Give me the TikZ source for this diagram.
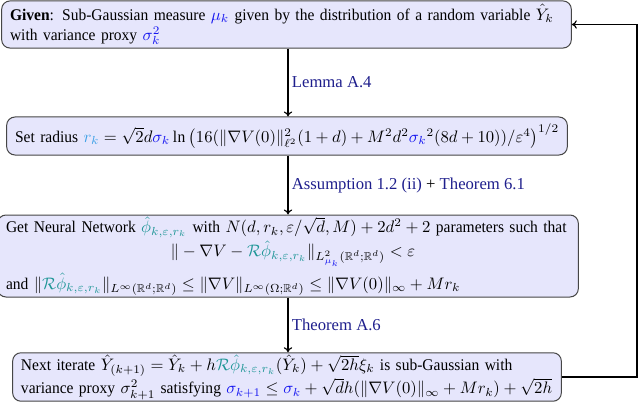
\documentclass[tikz,border=0pt]{standalone}
\usepackage{amsmath,amssymb}
\usepackage{fontspec}
\setmainfont{Liberation Serif}[FakeStretch=0.95]
\newfontfamily\labfont{Liberation Serif}
\usetikzlibrary{arrows.meta}
\definecolor{boxfill}{RGB}{230,230,252}
\definecolor{boxdraw}{RGB}{70,70,70}
\definecolor{rcol}{RGB}{60,160,230}
\definecolor{phicol}{RGB}{30,150,150}
\definecolor{labcol}{RGB}{30,30,140}
\definecolor{mublue}{RGB}{20,20,240}
\newcommand{\phik}{{\color{phicol}\hat\phi_{k,\varepsilon,r_k}}}
\newcommand{\Rphik}{{\color{phicol}\mathcal{R}\hat\phi_{k,\varepsilon,r_k}}}
\begin{document}
\begin{tikzpicture}[x=0.6pt,y=-0.6pt,
  stepbox/.style={draw=boxdraw,fill=boxfill,rounded corners=5pt,line width=0.6pt,
    inner xsep=5pt,inner ysep=2pt,align=left,font=\fontsize{9.8}{12}\selectfont},
  flow/.style={-{To[length=3pt,width=5pt]},line width=0.7pt},
  lab/.style={right,text=labcol,font=\labfont\fontsize{10}{12}\selectfont,inner sep=2pt}]
\useasboundingbox (0,0) rectangle (640,402);
\node[stepbox,minimum width=563*0.6pt,minimum height=45*0.6pt,text width=553*0.6pt] (b1) at (286.5,24.5)
 {\textbf{Given}: Sub-Gaussian measure ${\color{mublue}\mu_k}$ given by the distribution of a random variable $\hat{Y}_k$\\
  with variance proxy ${\color{mublue}\sigma_k^2}$};
\node[stepbox,minimum width=554*0.6pt,minimum height=38*0.6pt,text width=544*0.6pt] (b2) at (287,136)
 {Set radius ${\color{rcol}r_k} = \sqrt{2}d{\color{mublue}\sigma_k}\ln\big(16(\|\nabla V(0)\|_{\ell^2}^2(1+d)+M^2d^2{\color{mublue}\sigma_k}^2(8d+10))/\varepsilon^4\big)^{1/2}$};
\node[stepbox,minimum width=574*0.6pt,minimum height=82*0.6pt,text width=564*0.6pt,inner ysep=1pt] (b3) at (288,256)
 {Get Neural Network $\phik$ with $N(d,r_k,\varepsilon/\sqrt{d},M)+2d^2+2$ parameters such that\\[1pt]
  \makebox[\linewidth][c]{\hspace*{6pt}$\|-\nabla V-\Rphik\|_{L^2_{\color{mublue}\mu_k}(\mathbb{R}^d;\mathbb{R}^d)}<\varepsilon$}\\[3pt]
  and $\|\Rphik\|_{L^\infty(\mathbb{R}^d;\mathbb{R}^d)}\le\|\nabla V\|_{L^\infty(\Omega;\mathbb{R}^d)}\le\|\nabla V(0)\|_\infty+Mr_k$};
\node[stepbox,minimum width=542*0.6pt,minimum height=41*0.6pt,text width=532*0.6pt,inner ysep=1pt] (b4) at (287,377)
 {Next iterate $\hat Y_{(k+1)}=\hat Y_k+h\Rphik(\hat Y_k)+\sqrt{2h}\xi_k$ is sub-Gaussian with\\
  variance proxy $\sigma_{k+1}^2$ satisfying ${\color{mublue}\sigma_{k+1}}\le{\color{mublue}\sigma_k}+\sqrt{d}h(\|\nabla V(0)\|_\infty+Mr_k)+\sqrt{2h}$};
\coordinate (c1) at (637,377);
\coordinate (c2) at (637,24.5);
\draw[flow] (b1.south -| 288,0) -- node[lab,pos=0.5]{Lemma A.4} (b2.north -| 288,0);
\draw[flow] (b2.south -| 288,0) -- node[lab,pos=0.5]{Assumption 1.2 (ii) {\color{black}+} Theorem 6.1} (b3.north -| 288,0);
\draw[flow] (b3.south -| 288,0) -- node[lab,pos=0.5]{Theorem A.6} (b4.north -| 288,0);
\draw[flow] (b4.east) -- (c1) -- (c2) -- (b1.east);
\end{tikzpicture}
\end{document}
